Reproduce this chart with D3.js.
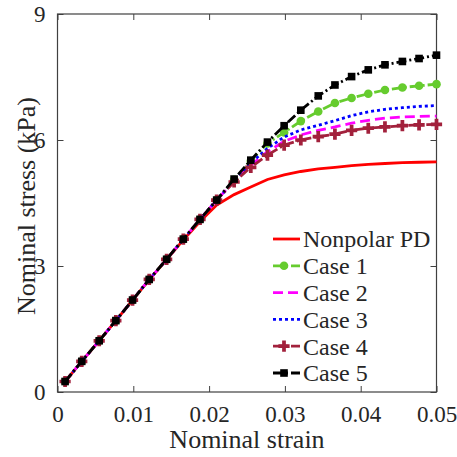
<!DOCTYPE html>
<html>
<head>
<meta charset="utf-8">
<script src="https://cdn.jsdelivr.net/npm/d3@7"></script>
<style>
  body { margin: 0; background: #fff; }
</style>
</head>
<body>
<svg id="chart" width="457" height="457"></svg>
<script>
// strain points where the curves were sampled
const strain = [0.001, 0.0032, 0.0055, 0.0077, 0.0099, 0.0121, 0.0144, 0.0166, 0.0188, 0.0210, 0.0233, 0.0255,
    0.0277, 0.0299, 0.0321, 0.0344, 0.0366, 0.0388, 0.0410, 0.0432, 0.0455, 0.0477, 0.05]

const nonpolarPD = [0.25, 0.73, 1.22, 1.70, 2.19, 2.67, 3.15, 3.62, 4.06, 4.45, 4.70, 4.88,
    5.06, 5.17, 5.25, 5.31, 5.35, 5.39, 5.42, 5.44, 5.46, 5.47, 5.48]
const case1 = [0.25, 0.73, 1.22, 1.70, 2.19, 2.68, 3.16, 3.64, 4.11, 4.57, 5.05, 5.50,
    5.92, 6.18, 6.45, 6.68, 6.88, 7.00, 7.10, 7.19, 7.25, 7.29, 7.33]
const case2 = [0.25, 0.73, 1.22, 1.70, 2.19, 2.68, 3.16, 3.64, 4.11, 4.57, 5.02, 5.40,
    5.72, 5.97, 6.12, 6.23, 6.31, 6.40, 6.47, 6.52, 6.55, 6.56, 6.57]
const case3 = [0.25, 0.73, 1.22, 1.70, 2.19, 2.68, 3.16, 3.64, 4.11, 4.57, 5.03, 5.45,
    5.80, 6.07, 6.24, 6.35, 6.46, 6.58, 6.67, 6.73, 6.77, 6.80, 6.82]
const case4 = [0.25, 0.73, 1.22, 1.70, 2.19, 2.68, 3.16, 3.64, 4.11, 4.57, 5.00, 5.35,
    5.64, 5.88, 6.00, 6.08, 6.14, 6.23, 6.28, 6.31, 6.34, 6.36, 6.37]
const case5 = [0.25, 0.73, 1.22, 1.70, 2.19, 2.68, 3.16, 3.64, 4.11, 4.57, 5.07, 5.52,
    5.95, 6.34, 6.71, 7.05, 7.31, 7.51, 7.67, 7.79, 7.87, 7.94, 8.02]

const seriesNames = ['Nonpolar PD', 'Case 1', 'Case 2', 'Case 3', 'Case 4', 'Case 5']
const seriesValues = [nonpolarPD, case1, case2, case3, case4, case5]

const xTicks = [0, 0.01, 0.02, 0.03, 0.04, 0.05]
const xTickLabels = ['0', '0.01', '0.02', '0.03', '0.04', '0.05']
const yTicks = [0, 3, 6, 9]
const yTickLabels = ['0', '3', '6', '9']

// line look for each series
const styles = [
    { color: '#ff0000', dash: null, marker: null },
    { color: '#66cc2e', dash: '10,3,2,3', marker: d3.symbolCircle },
    { color: '#ff00ff', dash: '10,5', marker: null },
    { color: '#0000ff', dash: '3,3', marker: null },
    { color: '#a2213c', dash: '10,3,2,3', marker: d3.symbolCross },
    { color: '#000000', dash: '10,3,2,3', marker: d3.symbolSquare }
]

const serif = '"Liberation Serif", "Times New Roman", serif'
const textColor = '#262626'

const svg = d3.select('#chart')
svg.append('rect').attr('width', 457).attr('height', 457).attr('fill', '#fff')

const x = d3.scaleLinear().domain([0, 0.05]).range([57.5, 436.5])
const y = d3.scaleLinear().domain([0, 9]).range([392, 14])

// axes with ticks pointing inward
const axisColor = '#404040'
function styleAxis(g) {
    g.attr('font-family', serif).attr('font-size', 23)
    g.select('.domain').remove()
    g.selectAll('.tick line').attr('stroke', axisColor)
    g.selectAll('.tick text').attr('fill', textColor)
}

svg.append('g')
    .attr('transform', 'translate(0,392)')
    .call(d3.axisBottom(x).tickValues(xTicks).tickFormat((d, i) => xTickLabels[i]).tickSizeInner(-6).tickPadding(14))
    .call(styleAxis)

svg.append('g')
    .attr('transform', 'translate(0,14)')
    .call(d3.axisTop(x).tickValues(xTicks).tickFormat('').tickSizeInner(-6))
    .call(styleAxis)

svg.append('g')
    .attr('transform', 'translate(57.5,0)')
    .call(d3.axisLeft(y).tickValues(yTicks).tickFormat((d, i) => yTickLabels[i]).tickSizeInner(-6).tickPadding(12))
    .call(styleAxis)

svg.append('g')
    .attr('transform', 'translate(436.5,0)')
    .call(d3.axisRight(y).tickValues(yTicks).tickFormat('').tickSizeInner(-6))
    .call(styleAxis)

svg.append('rect')
    .attr('x', x(0)).attr('y', y(9))
    .attr('width', x(0.05) - x(0)).attr('height', y(0) - y(9))
    .attr('fill', 'none').attr('stroke', axisColor).attr('stroke-width', 1.2)

// curves
const line = d3.line().x(d => x(d[0])).y(d => y(d[1]))
const markerSize = m => m === d3.symbolCross ? 70 : 58

seriesValues.forEach((vals, k) => {
    const st = styles[k]
    const pts = strain.map((s, i) => [s, vals[i]])
    svg.append('path')
        .datum(pts)
        .attr('d', line)
        .attr('fill', 'none')
        .attr('stroke', st.color)
        .attr('stroke-width', 2.8)
        .attr('stroke-dasharray', st.dash)
    if (st.marker) {
        svg.append('g').selectAll('path')
            .data(pts)
            .join('path')
            .attr('d', d3.symbol().type(st.marker).size(markerSize(st.marker)))
            .attr('transform', d => 'translate(' + x(d[0]) + ',' + y(d[1]) + ')')
            .attr('fill', st.color)
    }
})

// legend
const legend = svg.append('g')
seriesNames.forEach((name, k) => {
    const st = styles[k]
    const ly = 239 + k * 26.8
    legend.append('line')
        .attr('x1', 273).attr('x2', 300).attr('y1', ly).attr('y2', ly)
        .attr('stroke', st.color).attr('stroke-width', 2.8)
        .attr('stroke-dasharray', st.dash)
    if (st.marker) {
        legend.append('path')
            .attr('d', d3.symbol().type(st.marker).size(markerSize(st.marker)))
            .attr('transform', 'translate(284,' + ly + ')')
            .attr('fill', st.color)
    }
    legend.append('text')
        .attr('x', 303).attr('y', ly)
        .attr('dy', '0.35em')
        .attr('font-family', serif)
        .attr('font-size', 24)
        .attr('fill', textColor)
        .text(name)
})

// axis titles
svg.append('text')
    .attr('x', x(0.025)).attr('y', 448)
    .attr('text-anchor', 'middle')
    .attr('font-family', serif)
    .attr('font-size', 26)
    .attr('fill', textColor)
    .text('Nominal strain')

svg.append('text')
    .attr('transform', 'translate(35,206) rotate(-90)')
    .attr('text-anchor', 'middle')
    .attr('font-family', serif)
    .attr('font-size', 26)
    .attr('fill', textColor)
    .text('Nominal stress (kPa)')
</script>
</body>
</html>
